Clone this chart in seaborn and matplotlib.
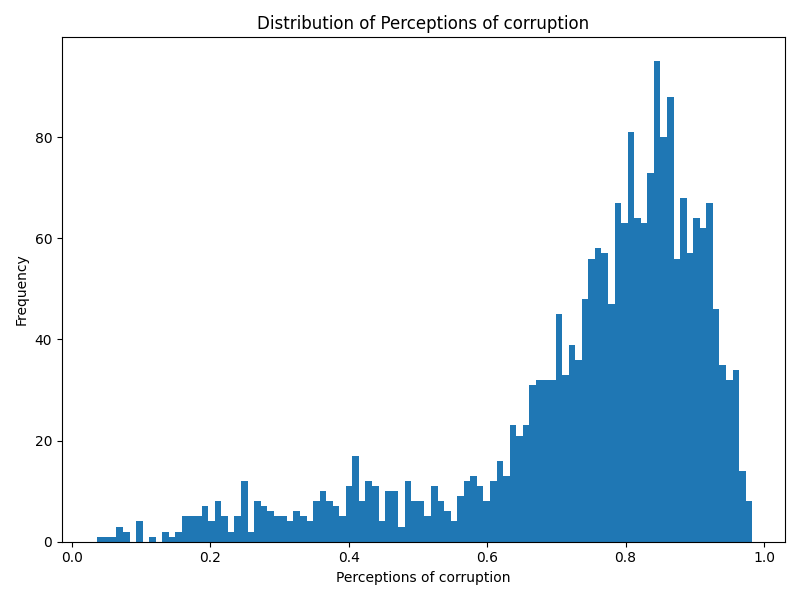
import numpy as np
import pandas as pd
import matplotlib
matplotlib.use("Agg")
import matplotlib.pyplot as plt
import seaborn as sns

# histogram counts, 100 equal bins
X_MIN = 0.036
X_MAX = 0.983
counts = [
    1, 1, 1, 3, 2, 0, 4, 0, 1, 0,
    2, 1, 2, 5, 5, 5, 7, 4, 8, 5,
    2, 5, 12, 2, 8, 7, 6, 5, 5, 4,
    6, 5, 4, 8, 10, 8, 7, 5, 11, 17,
    8, 12, 11, 4, 10, 10, 3, 12, 8, 8,
    5, 11, 8, 6, 4, 9, 12, 13, 11, 8,
    12, 16, 13, 23, 21, 23, 31, 32, 32, 32,
    45, 33, 39, 36, 48, 56, 58, 57, 47, 67,
    63, 81, 64, 63, 73, 95, 80, 88, 56, 68,
    57, 64, 62, 67, 46, 35, 32, 34, 14, 8,
]

edges = np.linspace(X_MIN, X_MAX, len(counts) + 1)
df = pd.DataFrame({"value": (edges[:-1] + edges[1:]) / 2, "count": counts})

fig, ax = plt.subplots(figsize=(8, 6), dpi=100)
sns.histplot(data=df, x="value", weights="count", bins=len(counts),
             binrange=(X_MIN, X_MAX), color="#1f77b4",
             alpha=1, linewidth=0, ax=ax)
ax.set_title("Distribution of Perceptions of corruption")
ax.set_xlabel("Perceptions of corruption")
ax.set_ylabel("Frequency")
ax.set_xlim(X_MIN - 0.05 * (X_MAX - X_MIN) - 0.003, X_MAX + 0.05 * (X_MAX - X_MIN))
ax.set_ylim(0, 95 * 1.05)
plt.tight_layout()
plt.savefig("out.png", dpi=100)
plt.close()
